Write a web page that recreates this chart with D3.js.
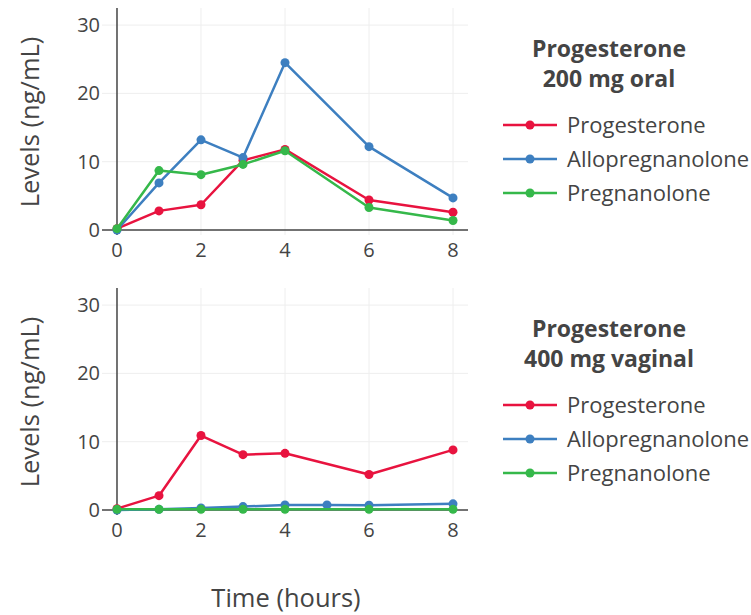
<!DOCTYPE html>
<html><head><meta charset="utf-8">
<script src="https://cdn.jsdelivr.net/npm/d3@7"></script>
<style>body{margin:0;background:#fff;} svg{display:block;font-family:"Open Sans",sans-serif;}</style>
</head><body>
<svg id="chart" width="751" height="615"></svg>
<script>
const seriesNames = ["Progesterone", "Allopregnanolone", "Pregnanolone"];
const seriesColors = ["#e8133f", "#3d7fc0", "#35b84a"];
const xTicks = [0, 2, 4, 6, 8];
const yTicks = [0, 10, 20, 30];

// Panel 1: 200 mg oral
const oralTimes = [0, 1, 2, 3, 4, 6, 8];
const oralProgesterone = [0.2, 2.8, 3.7, 10.2, 11.8, 4.4, 2.6];
const oralAllopregnanolone = [0.0, 6.9, 13.2, 10.6, 24.5, 12.2, 4.7];
const oralPregnanolone = [0.2, 8.7, 8.1, 9.6, 11.6, 3.3, 1.4];

// Panel 2: 400 mg vaginal
const vagProgTimes = [0, 1, 2, 3, 4, 6, 8];
const vagProgesterone = [0.2, 2.1, 10.9, 8.1, 8.3, 5.2, 8.8];
const vagAlloTimes = [0, 1, 2, 3, 4, 5, 6, 8];
const vagAllopregnanolone = [0.0, 0.1, 0.3, 0.5, 0.75, 0.75, 0.7, 0.9];
const vagPregTimes = [0, 1, 2, 3, 4, 6, 8];
const vagPregnanolone = [0.1, 0.1, 0.1, 0.1, 0.1, 0.1, 0.1];

const panels = [
  { title: ["Progesterone", "200 mg oral"], top: 8,
    series: [
      {x: oralTimes, y: oralProgesterone},
      {x: oralTimes, y: oralAllopregnanolone},
      {x: oralTimes, y: oralPregnanolone}] },
  { title: ["Progesterone", "400 mg vaginal"], top: 288,
    series: [
      {x: vagProgTimes, y: vagProgesterone},
      {x: vagAlloTimes, y: vagAllopregnanolone},
      {x: vagPregTimes, y: vagPregnanolone}] }
];

const svg = d3.select("#chart");
const left = 102, right = 468, plotH = 227;
const x = d3.scaleLinear().domain([-0.357, 8.357]).range([left, right]);
const textCol = "#444";

panels.forEach(p => {
  const y = d3.scaleLinear().domain([-0.73, 32.5]).range([p.top + plotH, p.top]);
  const g = svg.append("g");
  // grid
  g.selectAll(".vg").data(xTicks.filter(d => d !== 0)).join("line")
    .attr("x1", d => x(d)).attr("x2", d => x(d))
    .attr("y1", p.top).attr("y2", p.top + plotH)
    .attr("stroke", "#eee").attr("stroke-width", 1);
  g.selectAll(".hg").data(yTicks.filter(d => d !== 0)).join("line")
    .attr("x1", left).attr("x2", right)
    .attr("y1", d => y(d)).attr("y2", d => y(d))
    .attr("stroke", "#eee").attr("stroke-width", 1);
  // zero lines
  g.append("line").attr("x1", x(0)).attr("x2", x(0)).attr("y1", p.top).attr("y2", p.top + plotH)
    .attr("stroke", "#444").attr("stroke-width", 1.5);
  g.append("line").attr("x1", left).attr("x2", right).attr("y1", y(0)).attr("y2", y(0))
    .attr("stroke", "#444").attr("stroke-width", 1.5);
  // tick labels
  g.selectAll(".xt").data(xTicks).join("text")
    .attr("x", d => x(d)).attr("y", y(0) + 27)
    .attr("text-anchor", "middle").attr("fill", textCol).attr("font-size", 20)
    .text(d => d);
  g.selectAll(".yt").data(yTicks).join("text")
    .attr("x", left - 2).attr("y", d => y(d)).attr("dy", "0.35em")
    .attr("text-anchor", "end").attr("fill", textCol).attr("font-size", 20)
    .text(d => d);
  // y title
  g.append("text")
    .attr("transform", `translate(39,${p.top + 114}) rotate(-90)`)
    .attr("text-anchor", "middle").attr("fill", textCol).attr("font-size", 25.5)
    .text("Levels (ng/mL)");
  // series
  const line = d3.line().x(d => x(d[0])).y(d => y(d[1]));
  p.series.forEach((s, i) => {
    const pts = s.x.map((t, k) => [t, s.y[k]]);
    g.append("path").datum(pts).attr("d", line)
      .attr("fill", "none").attr("stroke", seriesColors[i]).attr("stroke-width", 2.5)
      .attr("stroke-linejoin", "round");
    g.selectAll(null).data(pts).join("circle")
      .attr("cx", d => x(d[0])).attr("cy", d => y(d[1])).attr("r", 4.5)
      .attr("fill", seriesColors[i]);
  });
  // legend
  const lg = svg.append("g");
  lg.selectAll(".lt").data(p.title).join("text")
    .attr("x", 609).attr("y", (d, i) => p.top + 49 + i * 30)
    .attr("text-anchor", "middle").attr("fill", textCol)
    .attr("font-size", 23).attr("font-weight", "bold").text(d => d);
  seriesNames.forEach((n, i) => {
    const yy = p.top + 117 + i * 34;
    lg.append("line").attr("x1", 503).attr("x2", 557).attr("y1", yy).attr("y2", yy)
      .attr("stroke", seriesColors[i]).attr("stroke-width", 2.5);
    lg.append("circle").attr("cx", 530).attr("cy", yy).attr("r", 4.5).attr("fill", seriesColors[i]);
    lg.append("text").attr("x", 567).attr("y", yy).attr("dy", "0.35em")
      .attr("fill", textCol).attr("font-size", 22).text(n);
  });
});

svg.append("text").attr("x", 286).attr("y", 607).attr("text-anchor", "middle")
  .attr("fill", textCol).attr("font-size", 25.5).text("Time (hours)");
</script>
</body></html>
